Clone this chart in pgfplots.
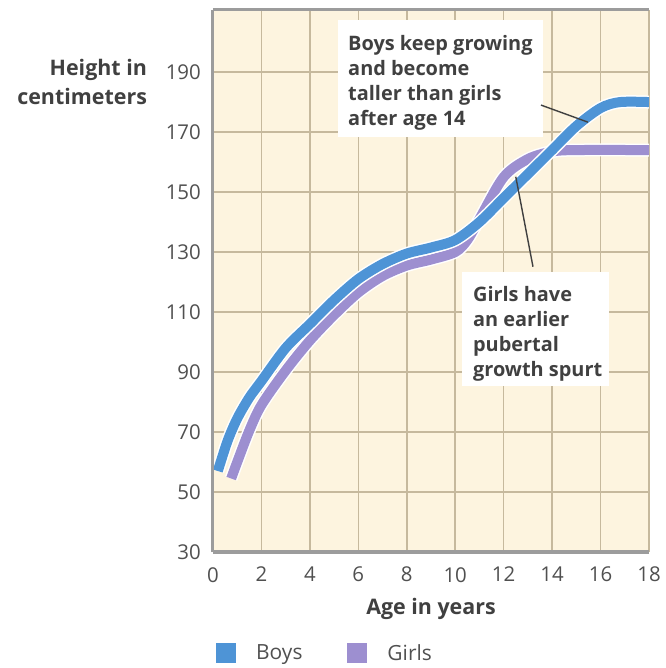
\documentclass[border=0pt]{standalone}
\usepackage{pgfplots}
\usepackage{pgfplotstable}
\pgfplotsset{compat=1.18}
\usepackage{fontspec}
\setmainfont{Open Sans}
\newcommand\semib{\bfseries}
\newcommand\medi{}
\definecolor{bg}{HTML}{FDF4DF}
\definecolor{gridc}{HTML}{C6B99D}
\definecolor{boys}{HTML}{4E94D6}
\definecolor{girls}{HTML}{9D8FD0}
\definecolor{txt}{HTML}{404040}
\definecolor{tick}{HTML}{505050}
\definecolor{axc}{HTML}{9C9C9C}

\pgfplotstableread{
age height
0.2 57
0.6 67
1 74.5
1.5 81.5
2 87
3 98
4 106
5 114
6 121
7 126
8 129.5
9 131.5
10 134
11 140
12 148
13 156
14 164
15 172
16 178
16.8 180
18 180
}\boys

\pgfplotstableread{
age height
0.75 54.5
1 60
1.5 70.5
2 79
3 90.5
4 100.5
5 109
6 116.5
7 122
8 125.5
9 127.5
10 130
10.5 134
11 141
12 155
13 161
14 163.5
15 164
18 164
}\girls

\begin{document}
\begin{tikzpicture}[x=1bp,y=1bp]
\path[use as bounding box] (-213,-116) rectangle (453,552);
\begin{axis}[
  at={(0,0)}, anchor=south west,
  scale only axis, width=436bp, height=542bp,
  xmin=0, xmax=18, ymin=30, ymax=210.7,
  xtick={0,2,...,18}, ytick={30,50,...,190},
  grid=major, major grid style={gridc, line width=1.6bp},
  axis background/.style={fill=bg},
  axis line style={draw=none},
  major tick length=0pt,
  clip=false,
  /pgf/number format/assume math mode=true,
  tick label style={font=\medi\fontsize{20.5}{24}\selectfont, text=tick},
  yticklabel style={inner sep=0pt, xshift=-12bp},
  xticklabel style={inner sep=0pt, yshift=-15bp},
  legend style={at={(axis description cs:0,-0.1865)}, anchor=west,
    draw=none, fill=none, legend columns=2,
    font=\medi\fontsize{21}{24}\selectfont, text=tick,
    nodes={inner sep=0pt},
    /tikz/every odd column/.append style={column sep=20bp},
    /tikz/every even column/.append style={column sep=45bp}},
  legend image code/.code={\fill[#1, draw=none] (0bp,-10bp) rectangle (20bp,10bp);},
  after end axis/.code={
    \draw[axc, line width=3bp] (rel axis cs:0,1) -- (rel axis cs:1,1);
    \draw[axc, line width=3bp] (rel axis cs:0,0) -- (rel axis cs:0,1);
    \draw[axc, line width=3.5bp] (rel axis cs:0,0) -- (rel axis cs:1,0);
  },
]
% annotation boxes
\fill[white] (axis cs:5.16,168.3) rectangle (axis cs:13.62,207.3);
\fill[white] (axis cs:10.28,85.3) rectangle (axis cs:16.35,123.3);

\addplot[white, line width=13bp, smooth, forget plot] table[x=age,y=height] {\girls};
\addplot[girls, line width=10bp, smooth, forget plot] table[x=age,y=height] {\girls};
\addplot[white, line width=13bp, smooth, forget plot] table[x=age,y=height] {\boys};
\addplot[boys, line width=10bp, smooth] table[x=age,y=height] {\boys};
\addlegendentry{Boys}
\addlegendimage{girls, line width=10bp}
\addlegendentry{Girls}

\draw[txt, line width=1.4bp] (axis cs:13.54,179) -- (axis cs:15.48,173.3);
\draw[txt, line width=1.4bp] (axis cs:12.50,155.1) -- (axis cs:13.21,125.1);

\node[anchor=north west, align=left, inner sep=0pt, text=txt,
  font=\semib\fontsize{20}{25}\selectfont] at (axis cs:5.574,202.3)
  {Boys keep growing\\and become\\taller than girls\\after age 14};
\node[anchor=north west, align=left, inner sep=0pt, text=txt,
  font=\semib\fontsize{20}{25}\selectfont] at (axis cs:10.73,118.7)
  {Girls have\\an earlier\\pubertal\\growth spurt};

\node[anchor=east, align=right, inner sep=0pt, text=txt,
  font=\semib\fontsize{21.5}{30}\selectfont] at (axis cs:-2.72,186.7)
  {Height in\\centimeters};
\node[inner sep=0pt, text=txt, font=\semib\fontsize{21.5}{25}\selectfont]
  at (axis cs:9,11) {Age in years};
\end{axis}
\end{tikzpicture}
\end{document}
